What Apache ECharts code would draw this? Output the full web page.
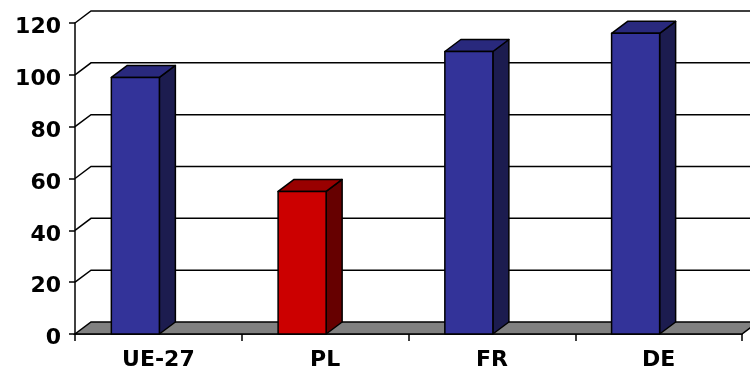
<!DOCTYPE html>
<html>
<head>
<meta charset="utf-8">
<script src="https://cdn.jsdelivr.net/npm/echarts@6/dist/echarts.min.js"></script>
<style>
  html, body { margin: 0; padding: 0; background: #fff; }
  #chart { width: 750px; height: 372px; }
</style>
</head>
<body>
<div id="chart"></div>
<script>
// Categories and values
const categories = ['UE-27', 'PL', 'FR', 'DE'];
const values = [99, 55, 109, 116];
const yTicks = [0, 20, 40, 60, 80, 100, 120];

// Face colours: [front, top, side]
const blueFaces = ['#333399', '#29297d', '#1c1c4f'];
const redFaces = ['#cc0000', '#990000', '#660000'];
const highlight = 'PL';

// Oblique depth of the 3D box
const DX = 16, DY = -12;

const chart = echarts.init(document.getElementById('chart'), null, { renderer: 'canvas' });

// Back walls and floor: one item per y tick
function renderWalls(params, api) {
  const v = api.value(0);
  const left = api.coord([0, v]);
  const band = api.size([1, 0])[0];
  const xl = left[0] - band / 2;
  const xr = left[0] + band * (categories.length - 0.5);
  const y = left[1];
  if (v === 0) {
    return {
      type: 'polygon',
      shape: { points: [[xl, y], [xr, y], [xr + DX, y + DY], [xl + DX, y + DY]] },
      style: { fill: '#808080', stroke: '#000', lineWidth: 1.5 }
    };
  }
  return {
    type: 'polyline',
    shape: { points: [[xl, y], [xl + DX, y + DY], [xr + DX + 20, y + DY]] },
    style: { fill: null, stroke: '#000', lineWidth: 1.5 }
  };
}

// 3D columns: front, top and side faces
function renderBar(params, api) {
  const idx = api.value(0);
  const val = api.value(1);
  const top = api.coord([idx, val]);
  const base = api.coord([idx, 0]);
  const band = api.size([1, 0])[0];
  const x0 = top[0] - band * 0.282;
  const x1 = top[0] + band * 0.006;
  const yt = top[1], yb = base[1];
  const faces = categories[idx] === highlight ? redFaces : blueFaces;
  const edge = { stroke: '#000', lineWidth: 1.5, lineJoin: 'round' };
  return {
    type: 'group',
    children: [
      { type: 'polygon', shape: { points: [[x1, yt], [x1 + DX, yt + DY], [x1 + DX, yb + DY], [x1, yb]] },
        style: Object.assign({ fill: faces[2] }, edge) },
      { type: 'polygon', shape: { points: [[x0, yt], [x1, yt], [x1 + DX, yt + DY], [x0 + DX, yt + DY]] },
        style: Object.assign({ fill: faces[1] }, edge) },
      { type: 'rect', shape: { x: x0, y: yt, width: x1 - x0, height: yb - yt },
        style: Object.assign({ fill: faces[0] }, edge) }
    ]
  };
}

const labelFont = { fontFamily: 'DejaVu Sans', fontWeight: 'bold', color: '#000' };

chart.setOption({
  animation: false,
  grid: { left: 75, right: 8, top: 23, bottom: 38, containLabel: false },
  xAxis: {
    type: 'category',
    data: categories,
    axisLine: { show: true, lineStyle: { color: '#000', width: 1.5 } },
    axisTick: { show: true, length: 7, lineStyle: { color: '#000', width: 1.5 } },
    axisLabel: Object.assign({ fontSize: 22, margin: 15 }, labelFont),
    splitLine: { show: false }
  },
  yAxis: {
    type: 'value',
    min: 0, max: 120, interval: 20,
    axisLine: { show: true, lineStyle: { color: '#000', width: 1.5 } },
    axisTick: { show: true, length: 6, lineStyle: { color: '#000', width: 1.5 } },
    axisLabel: Object.assign({
      fontSize: 22, margin: 14,
      formatter: '{t|{value}}',
      rich: { t: Object.assign({ fontSize: 22, padding: [9, 0, 0, 0] }, labelFont) }
    }, labelFont),
    splitLine: { show: false }
  },
  series: [
    {
      type: 'custom',
      renderItem: renderWalls,
      data: yTicks.map(v => [v]),
      encode: { y: 0 },
      silent: true,
      z: 1
    },
    {
      type: 'custom',
      renderItem: renderBar,
      data: values.map((v, i) => [i, v]),
      encode: { x: 0, y: 1 },
      z: 2
    }
  ]
});
</script>
</body>
</html>
